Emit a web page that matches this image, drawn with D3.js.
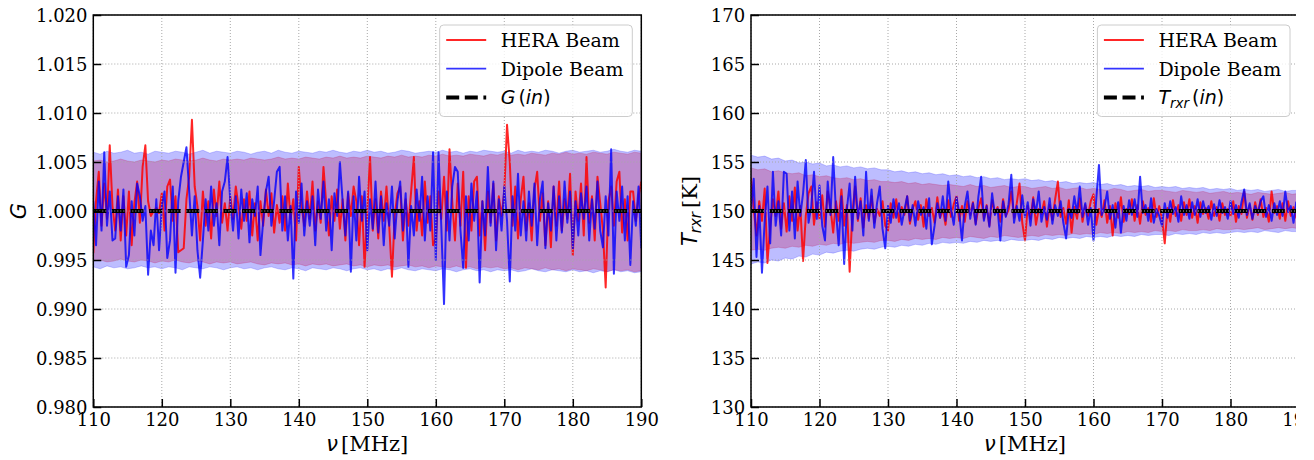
<!DOCTYPE html>
<html><head><meta charset="utf-8">
<script src="https://cdn.jsdelivr.net/npm/d3@7"></script>
<style>body{margin:0;background:#fff}svg{display:block}</style>
</head><body>
<svg id="c" width="1314" height="460"></svg>
<script>
// ---------------- data ----------------
const freqLine = d3.range(201).map(i => +(110 + 0.4 * i).toFixed(1));   // MHz
const freqBand = d3.range(81).map(i => 110 + i);                       // MHz
const xTicks = [110, 120, 130, 140, 150, 160, 170, 180, 190];
const gTicks = [0.980, 0.985, 0.990, 0.995, 1.000, 1.005, 1.010, 1.015, 1.020];
const tTicks = [130, 135, 140, 145, 150, 155, 160, 165, 170];
const gInput = 1.0;
const tInput = 150;
const seriesNames = ["HERA Beam", "Dipole Beam"];

const gHera = [0.9957,1.0010,1.0040,0.9985,1.0028,0.9992,1.0067,1.0005,0.9980,1.0022,
0.9970,1.0015,0.9975,1.0020,0.9965,1.0008,1.0030,0.9988,1.0045,1.0067,
1.0010,0.9995,1.0000,1.0003,0.9998,1.0018,0.9980,1.0025,1.0032,0.9990,
1.0015,0.9958,0.9960,0.9962,1.0012,1.0035,1.0093,1.0025,1.0005,0.9970,
1.0020,0.9985,1.0010,0.9972,1.0022,0.9995,1.0030,0.9988,1.0008,0.9980,
1.0015,0.9992,1.0025,1.0005,0.9982,1.0012,0.9990,1.0020,0.9975,1.0008,
0.9970,1.0010,0.9985,1.0022,0.9995,1.0018,0.9978,1.0006,0.9988,1.0015,
0.9980,1.0028,0.9992,1.0012,0.9970,1.0045,1.0005,0.9985,1.0020,0.9992,
1.0030,0.9980,1.0010,0.9988,1.0045,1.0008,0.9975,1.0015,0.9990,1.0022,
0.9982,1.0012,0.9970,1.0018,0.9995,1.0025,1.0010,0.9965,1.0015,0.9943,
1.0000,1.0055,0.9980,1.0012,0.9972,1.0020,0.9990,1.0025,0.9985,0.9933,
0.9995,1.0018,1.0025,0.9970,1.0012,0.9985,1.0020,1.0055,0.9980,1.0010,
0.9975,1.0030,0.9988,1.0015,0.9965,0.9972,1.0020,0.9992,1.0035,0.9980,
1.0063,1.0010,0.9970,1.0028,0.9985,1.0040,0.9942,1.0015,0.9980,1.0030,
1.0035,0.9975,1.0010,0.9960,1.0020,0.9988,1.0028,0.9970,1.0015,0.9995,
1.0020,1.0088,1.0050,0.9985,1.0025,0.9972,1.0012,1.0035,0.9980,1.0008,
0.9970,1.0022,1.0040,0.9990,1.0018,0.9965,1.0010,0.9963,1.0025,0.9985,
1.0030,0.9980,1.0012,0.9992,1.0038,0.9955,1.0020,0.9990,1.0028,0.9975,
1.0055,0.9988,1.0015,0.9970,1.0035,1.0008,0.9980,0.9922,1.0010,1.0025,
0.9985,1.0030,1.0040,0.9978,1.0012,0.9970,1.0020,1.0020,0.9990,1.0015,
1.0030];

const gDipole = [1.0010,0.9965,1.0030,0.9980,1.0060,0.9985,1.0020,0.9970,0.9972,1.0015,
0.9980,1.0022,0.9943,0.9955,1.0010,0.9975,1.0028,1.0015,0.9990,1.0005,
0.9935,0.9980,0.9965,1.0012,0.9960,1.0005,1.0020,0.9952,0.9970,1.0025,
0.9937,1.0010,1.0035,1.0050,1.0065,1.0020,0.9975,1.0015,0.9960,0.9932,
0.9970,1.0012,0.9980,1.0025,0.9985,1.0008,0.9965,1.0020,1.0030,1.0055,
1.0010,0.9980,1.0015,0.9972,1.0022,0.9990,1.0018,0.9968,1.0012,0.9995,
1.0025,0.9955,0.9990,1.0020,1.0035,0.9985,1.0010,1.0040,1.0045,0.9980,
1.0015,0.9970,1.0005,0.9931,1.0020,0.9988,1.0028,0.9975,1.0010,0.9985,
1.0015,0.9965,1.0022,0.9992,1.0030,0.9980,1.0012,0.9960,1.0018,0.9995,
1.0050,1.0010,0.9975,1.0020,0.9938,1.0015,0.9970,1.0035,0.9990,1.0020,
0.9960,1.0012,0.9982,1.0030,0.9978,1.0015,0.9965,1.0008,0.9985,1.0025,
0.9972,1.0010,1.0030,0.9980,1.0018,0.9943,1.0005,0.9975,1.0022,0.9990,
1.0035,0.9970,1.0015,0.9980,1.0060,0.9950,1.0060,0.9985,0.9905,1.0020,
0.9970,1.0025,1.0045,1.0040,0.9980,0.9942,1.0015,0.9970,1.0028,0.9990,
1.0020,0.9927,1.0010,0.9975,1.0045,0.9985,1.0030,0.9960,1.0012,0.9980,
1.0025,0.9990,0.9928,1.0015,0.9980,1.0038,0.9975,1.0010,0.9970,1.0020,
0.9985,1.0028,0.9965,1.0012,1.0030,0.9962,1.0008,0.9980,1.0025,0.9970,
1.0015,0.9978,1.0030,0.9988,1.0020,0.9962,1.0010,0.9975,1.0018,0.9992,
1.0025,0.9970,1.0012,0.9982,1.0030,0.9980,0.9963,1.0015,0.9975,1.0063,
0.9936,1.0020,0.9990,1.0025,0.9970,1.0015,0.9945,1.0010,0.9985,1.0025,
0.9962];

const gHeraUpper = [1.0051,1.0052,1.0050,1.0051,1.0053,1.0051,1.0050,1.0052,1.0051,1.0050,
1.0052,1.0051,1.0053,1.0052,1.0051,1.0052,1.0054,1.0052,1.0051,1.0053,
1.0052,1.0053,1.0052,1.0054,1.0053,1.0052,1.0053,1.0055,1.0053,1.0054,
1.0053,1.0055,1.0054,1.0053,1.0055,1.0054,1.0056,1.0054,1.0055,1.0054,
1.0056,1.0055,1.0054,1.0056,1.0055,1.0057,1.0055,1.0056,1.0055,1.0057,
1.0056,1.0058,1.0056,1.0057,1.0056,1.0058,1.0057,1.0056,1.0058,1.0057,
1.0059,1.0057,1.0058,1.0057,1.0059,1.0058,1.0057,1.0059,1.0058,1.0060,
1.0058,1.0059,1.0058,1.0060,1.0059,1.0058,1.0060,1.0059,1.0058,1.0060,
1.0059];
const gHeraLower = [0.9949,0.9950,0.9948,0.9949,0.9951,0.9949,0.9948,0.9950,0.9949,0.9947,
0.9949,0.9948,0.9950,0.9948,0.9947,0.9949,0.9948,0.9946,0.9948,0.9947,
0.9948,0.9946,0.9947,0.9948,0.9946,0.9945,0.9947,0.9946,0.9947,0.9945,
0.9946,0.9944,0.9946,0.9945,0.9946,0.9944,0.9945,0.9946,0.9944,0.9945,
0.9943,0.9945,0.9944,0.9945,0.9943,0.9944,0.9945,0.9943,0.9944,0.9942,
0.9944,0.9943,0.9942,0.9944,0.9942,0.9943,0.9941,0.9943,0.9942,0.9943,
0.9941,0.9942,0.9940,0.9942,0.9941,0.9940,0.9942,0.9940,0.9941,0.9939,
0.9941,0.9940,0.9939,0.9941,0.9940,0.9938,0.9940,0.9939,0.9940,0.9938,
0.9939];
const gDipoleUpper = [1.0060,1.0058,1.0061,1.0059,1.0060,1.0062,1.0059,1.0060,1.0058,1.0061,
1.0060,1.0059,1.0061,1.0060,1.0058,1.0060,1.0062,1.0059,1.0061,1.0060,
1.0059,1.0061,1.0060,1.0058,1.0060,1.0061,1.0059,1.0062,1.0060,1.0059,
1.0061,1.0060,1.0059,1.0061,1.0060,1.0062,1.0060,1.0059,1.0061,1.0060,
1.0062,1.0060,1.0061,1.0059,1.0060,1.0062,1.0061,1.0059,1.0060,1.0061,
1.0060,1.0062,1.0060,1.0061,1.0059,1.0061,1.0060,1.0062,1.0061,1.0060,
1.0061,1.0059,1.0062,1.0060,1.0061,1.0060,1.0062,1.0061,1.0059,1.0061,
1.0062,1.0060,1.0061,1.0062,1.0060,1.0061,1.0063,1.0061,1.0060,1.0062,
1.0061];
const gDipoleLower = [0.9943,0.9941,0.9944,0.9942,0.9943,0.9941,0.9942,0.9944,0.9942,0.9943,
0.9941,0.9943,0.9942,0.9940,0.9943,0.9942,0.9941,0.9943,0.9942,0.9940,
0.9942,0.9943,0.9941,0.9942,0.9940,0.9942,0.9943,0.9941,0.9940,0.9942,
0.9941,0.9939,0.9942,0.9941,0.9940,0.9942,0.9941,0.9939,0.9941,0.9942,
0.9940,0.9941,0.9939,0.9941,0.9940,0.9942,0.9940,0.9939,0.9941,0.9940,
0.9939,0.9941,0.9940,0.9938,0.9940,0.9941,0.9939,0.9940,0.9938,0.9940,
0.9939,0.9940,0.9938,0.9939,0.9941,0.9939,0.9938,0.9940,0.9939,0.9938,
0.9940,0.9938,0.9939,0.9937,0.9939,0.9938,0.9940,0.9938,0.9939,0.9937,
0.9938];

const tHera = [153.4,150.2,147.5,151.0,149.0,152.3,144.7,148.5,151.2,149.5,
152.0,148.2,150.8,147.9,151.5,149.0,152.4,148.0,150.5,144.9,
149.5,151.8,152.5,148.6,150.9,149.2,151.6,148.4,152.0,150.3,
147.8,151.0,149.0,152.2,148.5,150.6,143.8,149.8,152.5,149.0,
151.3,148.3,150.6,149.2,151.5,148.8,150.2,149.5,151.0,148.5,
148.0,150.8,149.3,151.2,148.9,150.4,149.6,151.5,148.7,150.2,
151.0,149.1,150.6,148.4,151.2,149.5,150.3,148.8,151.4,149.3,
150.2,148.6,151.1,149.4,150.7,151.5,149.0,150.5,148.9,151.0,
149.6,150.9,148.7,150.3,151.3,149.2,150.6,148.5,151.1,149.8,
150.4,148.9,151.2,149.5,150.1,152.0,149.3,150.8,152.8,148.8,
147.0,150.5,149.2,151.4,148.6,150.2,149.7,151.0,148.4,150.6,
149.1,151.2,153.0,149.4,150.3,148.7,151.1,147.8,150.4,149.2,
151.3,148.9,150.6,149.5,151.0,151.7,148.6,150.2,149.4,151.1,
148.8,150.5,147.5,150.8,149.3,151.4,148.9,150.2,149.7,151.2,
149.0,150.6,148.7,151.0,149.6,150.3,148.9,151.3,149.4,150.5,
149.2,146.7,150.3,148.9,151.1,149.5,150.6,149.0,150.9,149.6,
151.2,149.3,150.5,148.8,150.9,149.7,150.3,149.2,151.0,149.5,
150.4,149.0,150.8,149.6,150.2,149.5,151.0,148.9,150.5,149.7,
152.0,149.3,150.6,149.1,150.9,149.6,151.2,149.4,150.3,148.9,
152.0,149.8,150.5,149.2,150.8,149.0,151.0,149.5,150.4,149.3,
149.5];

const tDipole = [150.0,153.3,145.3,150.5,143.7,149.0,152.5,146.7,154.0,148.5,
151.0,147.5,154.0,153.8,148.0,152.0,147.2,153.0,149.5,151.8,
155.2,148.8,150.5,154.0,149.2,152.6,148.5,147.0,153.0,149.6,
155.5,150.0,146.5,151.5,144.6,150.2,152.8,148.0,153.5,149.2,
151.0,147.5,154.0,149.0,152.2,148.3,150.8,152.5,148.2,146.2,
150.5,148.8,151.2,149.3,150.8,148.6,150.1,151.5,149.0,150.6,
148.5,151.0,149.6,150.4,148.2,151.3,146.6,148.5,150.8,149.3,
151.5,149.0,153.0,150.2,148.6,151.4,149.8,147.0,150.5,152.0,
149.2,150.8,148.6,151.5,153.5,149.0,150.5,148.4,151.8,149.6,
150.2,147.0,151.0,149.4,150.7,153.7,148.8,150.5,149.0,151.6,
149.4,150.9,148.5,151.2,149.8,152.0,148.9,150.4,149.1,151.3,
148.7,150.6,149.5,151.0,148.8,147.2,150.2,149.3,151.5,149.8,
152.5,149.4,150.8,148.6,150.3,147.0,151.2,154.7,149.6,150.4,
152.0,149.2,150.6,148.3,150.9,147.8,150.5,149.0,151.1,149.6,
151.2,149.4,153.5,149.8,150.6,149.0,151.3,148.8,150.2,149.5,
148.5,150.8,149.3,151.0,149.7,150.4,148.9,151.5,149.6,150.6,
149.2,150.9,149.6,151.2,149.4,151.0,149.8,150.5,149.1,150.7,
149.5,151.1,149.8,150.4,149.2,151.0,149.7,150.6,149.3,150.9,
152.2,149.6,150.8,149.2,150.5,149.8,151.0,151.5,149.4,150.6,
149.0,150.8,149.6,151.0,149.5,152.0,149.9,150.5,148.8,150.9,
150.5];

const tHeraUpper = [154.4,154.2,154.3,154.0,154.1,153.9,153.8,153.9,153.6,153.7,
153.5,153.6,153.4,153.3,153.4,153.2,153.3,153.1,153.2,153.0,
153.0,152.9,153.0,152.8,152.9,152.7,152.8,152.7,152.6,152.7,
152.6,152.5,152.7,152.5,152.6,152.4,152.5,152.6,152.4,152.5,
152.5,152.3,152.4,152.5,152.3,152.4,152.2,152.3,152.4,152.2,
152.3,152.2,152.1,152.3,152.2,152.0,152.1,152.2,152.0,152.1,
152.1,152.0,151.9,152.1,152.0,151.9,152.0,151.8,151.9,152.0,
151.8,151.9,151.8,151.7,151.9,151.8,151.7,151.8,151.9,151.7,
151.8];
const tHeraLower = [146.0,146.1,146.0,146.2,146.3,146.2,146.4,146.3,146.5,146.4,
146.6,146.5,146.7,146.6,146.8,146.7,146.8,146.9,146.8,147.0,
147.0,146.9,147.1,147.0,147.2,147.1,147.2,147.1,147.3,147.2,
147.3,147.2,147.4,147.3,147.2,147.4,147.3,147.5,147.4,147.3,
147.4,147.5,147.4,147.6,147.5,147.6,147.5,147.7,147.6,147.7,
147.6,147.8,147.7,147.8,147.7,147.9,147.8,147.9,147.8,148.0,
147.9,148.0,147.9,148.1,148.0,148.0,148.1,148.0,148.2,148.1,
148.1,148.2,148.1,148.2,148.3,148.1,148.2,148.3,148.2,148.3,
148.2];
const tDipoleUpper = [155.7,155.5,155.6,155.3,155.4,155.1,155.2,154.9,155.0,154.8,
154.9,154.6,154.7,154.5,154.6,154.4,154.5,154.3,154.4,154.2,
154.2,154.0,154.1,153.9,154.0,153.8,153.9,153.7,153.8,153.6,
153.7,153.5,153.6,153.4,153.5,153.3,153.4,153.2,153.3,153.2,
153.3,153.1,153.2,153.0,153.1,152.9,153.0,152.8,152.9,152.8,
152.9,152.7,152.8,152.6,152.7,152.5,152.6,152.5,152.6,152.4,
152.5,152.4,152.5,152.3,152.4,152.3,152.4,152.2,152.3,152.2,
152.3,152.1,152.2,152.1,152.2,152.0,152.1,152.2,152.0,152.1,
152.1];
const tDipoleLower = [144.6,144.8,144.7,145.0,144.9,145.2,145.1,145.4,145.3,145.6,
145.5,145.8,145.7,145.9,146.0,145.9,146.1,146.2,146.1,146.3,
146.4,146.3,146.5,146.4,146.6,146.5,146.7,146.6,146.8,146.7,
146.8,146.7,146.9,146.8,147.0,146.9,147.0,146.9,147.1,147.0,
147.0,147.1,147.0,147.2,147.1,147.3,147.2,147.3,147.2,147.4,
147.3,147.4,147.3,147.5,147.4,147.5,147.4,147.6,147.5,147.6,
147.6,147.5,147.7,147.6,147.7,147.6,147.8,147.7,147.8,147.7,
147.8,147.9,147.8,147.9,147.8,148.0,147.9,147.8,148.0,147.9,
147.9];

// ---------------- drawing ----------------
const svg = d3.select("#c");
const TOP = 15, BOT = 407, W = 548;
const SERIF = "'DejaVu Serif', serif";
const SANS = "'DejaVu Sans', sans-serif";
const RED = "#ff0000", BLUE = "#0000ff";
const BAND_ALPHA = 0.26;

function drawPanel(o) {
  const x = d3.scaleLinear().domain([110, 190]).range([o.left, o.left + W]);
  const y = d3.scaleLinear().domain(o.domain).range([BOT, TOP]);
  const g = svg.append("g");
  const cid = "clip" + o.id;
  svg.append("clipPath").attr("id", cid).append("rect")
    .attr("x", o.left).attr("y", TOP).attr("width", W).attr("height", BOT - TOP);
  const plot = g.append("g").attr("clip-path", `url(#${cid})`);

  const band = (up, lo) => d3.area()
    .x((d, i) => x(freqBand[i])).y0((d, i) => y(lo[i])).y1((d, i) => y(up[i]))(up);

  [[o.heraUp, o.heraLo, RED], [o.dipUp, o.dipLo, BLUE]].forEach(([u, l, c]) => {
    plot.append("path").attr("d", band(u, l))
      .attr("fill", c).attr("fill-opacity", BAND_ALPHA)
      .attr("stroke", c).attr("stroke-opacity", 0.2).attr("stroke-width", 1);
  });

  // grid
  const grid = g.append("g").attr("stroke", "#a8a8a8").attr("stroke-width", 1)
    .attr("stroke-dasharray", "1,2");
  grid.selectAll(".gx").data(xTicks).join("line")
    .attr("x1", d => x(d)).attr("x2", d => x(d)).attr("y1", TOP).attr("y2", BOT);
  grid.selectAll(".gy").data(o.yTicks).join("line")
    .attr("x1", o.left).attr("x2", o.left + W).attr("y1", d => y(d)).attr("y2", d => y(d));

  // lines
  const line = d3.line().x((d, i) => x(freqLine[i])).y(d => y(d));
  plot.append("path").attr("d", line(o.hera)).attr("fill", "none")
    .attr("stroke", RED).attr("stroke-opacity", 0.85).attr("stroke-width", 2)
    .attr("stroke-linejoin", "round");
  plot.append("path").attr("d", line(o.dip)).attr("fill", "none")
    .attr("stroke", BLUE).attr("stroke-opacity", 0.8).attr("stroke-width", 2)
    .attr("stroke-linejoin", "round");
  plot.append("line").attr("x1", x(110)).attr("x2", x(190))
    .attr("y1", y(o.input)).attr("y2", y(o.input))
    .attr("stroke", "#000").attr("stroke-width", 4.2).attr("stroke-dasharray", "13,5.6");

  // axes
  const ax = g.append("g").attr("transform", `translate(0,${BOT})`)
    .call(d3.axisBottom(x).tickValues(xTicks).tickSizeInner(-8).tickSizeOuter(0).tickPadding(6.3));
  const ay = g.append("g").attr("transform", `translate(${o.left},0)`)
    .call(d3.axisLeft(y).tickValues(o.yTicks).tickFormat(o.fmt).tickSizeInner(-8).tickSizeOuter(0).tickPadding(5.8));
  [ax, ay].forEach(a => {
    a.select(".domain").remove();
    a.selectAll(".tick line").attr("stroke", "#000").attr("stroke-width", 1.5);
    a.selectAll(".tick text").attr("font-family", SERIF).attr("font-size", 18).attr("fill", "#000");
  });
  ay.selectAll(".tick text").attr("dy", "0.37em");

  g.append("rect").attr("x", o.left).attr("y", TOP).attr("width", W).attr("height", BOT - TOP)
    .attr("fill", "none").attr("stroke", "#000").attr("stroke-width", 1.5);

  // x label
  const xl = g.append("text").attr("x", o.left + W / 2).attr("y", 451)
    .attr("text-anchor", "middle").attr("font-size", 21);
  xl.append("tspan").attr("font-family", SANS).attr("font-style", "italic").text("ν");
  xl.append("tspan").attr("font-family", SERIF).attr("dx", 3).text("[MHz]");

  // y label
  const yl = g.append("text").attr("transform", `translate(${o.ylabX},${(TOP + BOT) / 2}) rotate(-90)`)
    .attr("text-anchor", "middle").attr("font-size", 21);
  o.ylab(yl);

  // legend
  const bx = o.left + W - 201.6, by = 25;
  const lg = g.append("g");
  lg.append("rect").attr("x", bx).attr("y", by).attr("width", 192.6).attr("height", 91.5)
    .attr("rx", 4).attr("fill", "#fff").attr("fill-opacity", 0.8)
    .attr("stroke", "#cccccc").attr("stroke-width", 1);
  const rows = [40, 68.7, 97.5];
  const items = [
    {c: RED, dash: null, w: 1.8, op: 0.85, txt: seriesNames[0]},
    {c: BLUE, dash: null, w: 1.8, op: 0.8, txt: seriesNames[1]},
    {c: "#000", dash: "13,5.6", w: 4, op: 1, txt: null}
  ];
  items.forEach((it, k) => {
    lg.append("line").attr("x1", bx + 6.5).attr("x2", bx + 46.5)
      .attr("y1", rows[k]).attr("y2", rows[k]).attr("stroke", it.c)
      .attr("stroke-opacity", it.op).attr("stroke-width", it.w)
      .attr("stroke-dasharray", it.dash);
    const t = lg.append("text").attr("x", bx + 61).attr("y", rows[k] + 6.9).attr("font-size", 19);
    if (it.txt) t.attr("font-family", SERIF).text(it.txt);
    else o.legIn(t);
  });
}

drawPanel({
  id: "L", left: 93.3, domain: [0.98, 1.02], yTicks: gTicks, fmt: d3.format(".3f"),
  hera: gHera, dip: gDipole, heraUp: gHeraUpper, heraLo: gHeraLower,
  dipUp: gDipoleUpper, dipLo: gDipoleLower, input: gInput, ylabX: 25.5,
  ylab: t => t.append("tspan").attr("font-family", SANS).attr("font-style", "italic").text("G"),
  legIn: t => {
    t.attr("font-family", SANS);
    t.append("tspan").attr("font-style", "italic").text("G");
    t.append("tspan").attr("dx", 3).text("(");
    t.append("tspan").attr("font-style", "italic").text("in");
    t.append("tspan").text(")");
  }
});

drawPanel({
  id: "R", left: 751, domain: [130, 170], yTicks: tTicks, fmt: d3.format("d"),
  hera: tHera, dip: tDipole, heraUp: tHeraUpper, heraLo: tHeraLower,
  dipUp: tDipoleUpper, dipLo: tDipoleLower, input: tInput, ylabX: 697,
  ylab: t => {
    t.append("tspan").attr("font-family", SANS).attr("font-style", "italic").text("T");
    t.append("tspan").attr("font-family", SANS).attr("font-style", "italic")
      .attr("font-size", 15).attr("dy", 4).text("rxr");
    t.append("tspan").attr("font-family", SERIF).attr("dy", -4).attr("dx", 4).text("[K]");
  },
  legIn: t => {
    t.attr("font-family", SANS);
    t.append("tspan").attr("font-style", "italic").text("T");
    t.append("tspan").attr("font-style", "italic").attr("font-size", 13.5).attr("dy", 4).text("rxr");
    t.append("tspan").attr("dy", -4).attr("dx", 3).text("(");
    t.append("tspan").attr("font-style", "italic").text("in");
    t.append("tspan").text(")");
  }
});

// the reference image is cropped at the right edge
svg.append("rect").attr("x", 1296).attr("y", 0).attr("width", 18).attr("height", 460).attr("fill", "#fff");
</script>
</body></html>
